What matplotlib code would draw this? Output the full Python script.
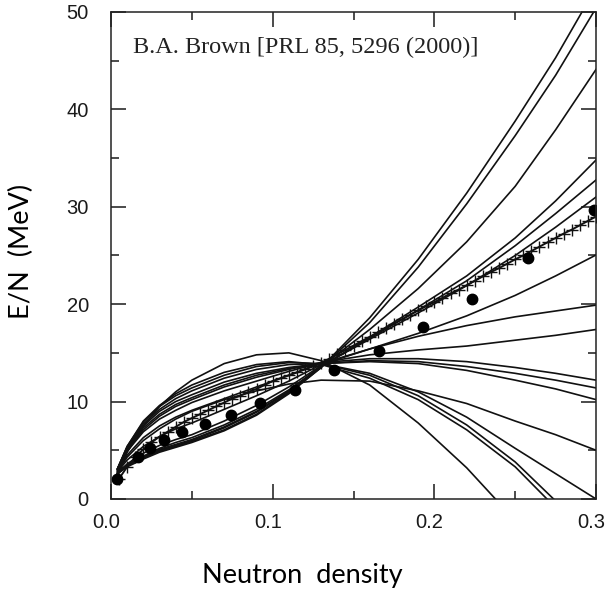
import numpy as np
import matplotlib
matplotlib.use('Agg')
from matplotlib import pyplot as plt
from matplotlib.ticker import MultipleLocator
import matplotlib.transforms as mtransforms

# common density grid for the Skyrme curves
x_grid = [0.004, 0.01, 0.02, 0.03, 0.04, 0.05, 0.07, 0.09, 0.11, 0.13,
          0.16, 0.19, 0.22, 0.25, 0.275, 0.30]

nan = np.nan
curve_a = [2.6, 3.3, 4.1, 4.8, 5.3, 5.8, 7.0, 8.6, 10.8, 13.5, 18.6, 24.6, 31.4, 38.8, 45.3, 52.5]
curve_b = [2.6, 3.4, 4.2, 4.9, 5.4, 5.9, 7.1, 8.7, 10.9, 13.5, 18.1, 23.8, 30.3, 37.3, 43.5, 50.4]
curve_c = [2.6, 3.4, 4.3, 5.0, 5.5, 6.0, 7.3, 8.9, 11.0, 13.6, 17.4, 21.6, 26.4, 32.1, 37.9, 44.1]
curve_d = [2.6, 3.4, 4.3, 5.1, 5.6, 6.1, 7.4, 9.0, 11.1, 13.6, 16.6, 19.7, 22.9, 26.8, 30.6, 34.8]
curve_e = [2.7, 3.5, 4.4, 5.2, 5.8, 6.3, 7.6, 9.2, 11.2, 13.6, 16.5, 19.4, 22.4, 26.0, 29.3, 32.75]
curve_f = [2.7, 3.6, 4.7, 5.5, 6.1, 6.6, 8.0, 9.6, 11.5, 13.7, 16.4, 19.1, 21.9, 25.0, 27.9, 31.0]
curve_g = [2.8, 4.0, 5.4, 6.4, 7.2, 7.8, 9.2, 10.6, 12.1, 13.8, 15.4, 17.0, 18.8, 20.9, 22.9, 25.05]
curve_h = [2.9, 4.5, 6.3, 7.5, 8.4, 9.1, 10.3, 11.5, 12.7, 13.9, 15.4, 16.7, 17.8, 18.7, 19.3, 19.9]
curve_i = [3.0, 4.9, 6.9, 8.2, 9.1, 9.9, 11.1, 12.1, 13.1, 14.0, 14.8, 15.3, 15.7, 16.3, 16.8, 17.4]
curve_j = [3.0, 5.0, 7.1, 8.5, 9.5, 10.2, 11.5, 12.5, 13.3, 14.0, 14.4, 14.4, 14.1, 13.5, 12.9, 12.2]
curve_k = [3.0, 5.1, 7.3, 8.7, 9.7, 10.4, 11.7, 12.7, 13.4, 13.9, 14.2, 14.1, 13.6, 12.9, 12.2, 11.4]
curve_l = [3.1, 5.2, 7.5, 9.0, 10.0, 10.7, 12.0, 12.9, 13.5, 13.9, 14.1, 13.9, 13.2, 12.2, 11.3, 10.2]
curve_m = [2.8, 4.3, 6.0, 7.2, 8.2, 9.0, 10.2, 11.1, 11.8, 12.2, 12.1, 11.1, 9.8, 8.0, 6.6, 5.0]
curve_n = [3.1, 5.3, 7.7, 9.2, 10.3, 11.1, 12.4, 13.3, 13.8, 13.9, 12.9, 11.0, 8.4, 5.2, 2.6, 0.0]
curve_o = [3.1, 5.4, 7.9, 9.5, 10.6, 11.4, 12.7, 13.6, 14.0, 13.9, 12.7, 10.6, 7.6, 3.8, -0.2, nan]
curve_p = [3.1, 5.4, 8.0, 9.6, 10.8, 11.7, 13.0, 13.8, 14.1, 13.8, 12.4, 10.2, 7.1, 3.3, -0.9, nan]
curve_q = [2.4, 4.8, 7.5, 9.5, 11.0, 12.2, 13.9, 14.8, 15.0, 14.2, 11.7, 7.8, 3.2, -2.2, nan, nan]

skyrme = [curve_a, curve_b, curve_c, curve_d, curve_e, curve_f, curve_g, curve_h, curve_i,
          curve_j, curve_k, curve_l, curve_m, curve_n, curve_o, curve_p, curve_q]

# crossed line
cross_x = [0.005, 0.010, 0.015, 0.020, 0.025, 0.030, 0.035, 0.040, 0.045, 0.050,
           0.055, 0.060, 0.065, 0.070, 0.075, 0.080, 0.085, 0.090, 0.095, 0.100,
           0.105, 0.110, 0.115, 0.120, 0.125, 0.130, 0.135, 0.140, 0.145, 0.150,
           0.155, 0.160, 0.165, 0.170, 0.175, 0.180, 0.185, 0.190, 0.195, 0.200,
           0.205, 0.210, 0.215, 0.220, 0.225, 0.230, 0.235, 0.240, 0.245, 0.250,
           0.255, 0.260, 0.265, 0.270, 0.275, 0.280, 0.285, 0.290, 0.295, 0.300]
cross_y = [2.1, 3.3, 4.3, 5.1, 5.8, 6.4, 6.9, 7.4, 7.9, 8.3,
           8.7, 9.1, 9.5, 9.9, 10.3, 10.6, 11.0, 11.3, 11.7, 12.1,
           12.4, 12.7, 13.0, 13.35, 13.65, 14.0, 14.4, 14.85, 15.3, 15.75,
           16.2, 16.65, 17.1, 17.55, 18.0, 18.45, 18.9, 19.35, 19.8, 20.2,
           20.65, 21.1, 21.5, 21.95, 22.4, 22.85, 23.3, 23.7, 24.15, 24.6,
           25.0, 25.45, 25.9, 26.35, 26.8, 27.25, 27.65, 28.1, 28.55, 29.0]

# dots
dot_x = [0.004, 0.0167, 0.024, 0.033, 0.044, 0.058, 0.074, 0.092, 0.114, 0.138,
         0.166, 0.193, 0.223, 0.258, 0.299]
dot_y = [2.0, 4.35, 5.2, 6.1, 6.9, 7.7, 8.6, 9.9, 11.2, 13.2,
         15.2, 17.7, 20.5, 24.7, 29.7]

x_ticks = [0.0, 0.1, 0.2, 0.3]
x_labels = ['0.0', '0.1', '0.2', '0.3']
y_ticks = [0, 10, 20, 30, 40, 50]

fig = plt.figure(figsize=(6.08, 5.98), dpi=100)
ax = fig.add_axes([0.1826, 0.1656, 0.7977, 0.8144])

for ys in skyrme:
    ax.plot(x_grid, ys, color='#111111', lw=1.2, solid_joinstyle='round')

ax.plot(cross_x, cross_y, color='#111111', lw=1.4, marker='+', ms=8, mew=1.0)
ax.plot(dot_x, dot_y, 'o', color='#000000', ms=7.5, mec='#000000')

ax.set_xlim(0, 0.3)
ax.set_ylim(0, 50)
ax.set_xticks(x_ticks)
ax.set_xticklabels(x_labels)
ax.set_yticks(y_ticks)
ax.xaxis.set_minor_locator(MultipleLocator(0.05))
ax.yaxis.set_minor_locator(MultipleLocator(5))
ax.tick_params(which='both', direction='in', top=True, right=True, width=1.1,
               labelsize=14.5, colors='#1a1a1a')
ax.tick_params(which='major', length=11)
ax.tick_params(which='minor', length=5.5)
ax.tick_params(axis='x', pad=10)
ax.tick_params(axis='y', pad=16)
for lab in ax.get_xticklabels() + ax.get_yticklabels():
    lab.set_family(['Liberation Sans', 'DejaVu Sans'])
for s in ax.spines.values():
    s.set_linewidth(1.1)
    s.set_color('#222222')

shift = mtransforms.ScaledTranslation(-5 / 100, 0, fig.dpi_scale_trans)
for lab in ax.get_xticklabels():
    lab.set_transform(lab.get_transform() + shift)

ax.text(0.045, 0.928, 'B.A. Brown [PRL 85, 5296 (2000)]', transform=ax.transAxes,
        family=['Liberation Serif', 'DejaVu Serif'], fontsize=17.5, va='center', ha='left',
        color='#222222')

fig.text(0.036, 0.58, 'E/N  (MeV)', rotation=90, va='center', ha='center',
         family=['Lato', 'DejaVu Sans'], fontsize=19.5)
fig.text(0.497, 0.038, 'Neutron  density', va='center', ha='center',
         family=['Lato', 'DejaVu Sans'], fontsize=19.5)

fig.savefig('out.png', dpi=100)
